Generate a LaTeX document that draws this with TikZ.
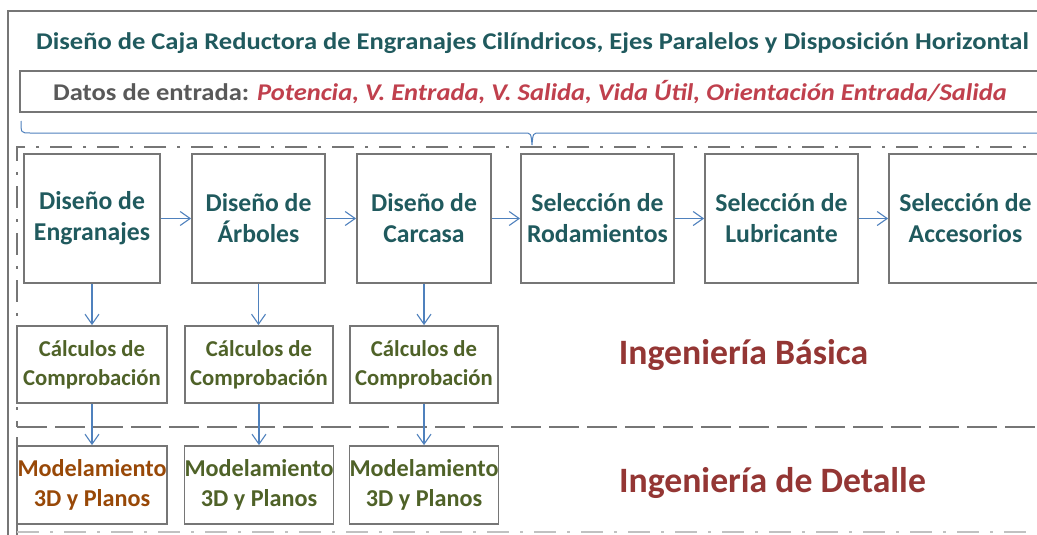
\documentclass[tikz,border=0pt]{standalone}
\usepackage{fontspec}
\setmainfont{Carlito}
\usetikzlibrary{arrows.meta}
\definecolor{cTitle}{HTML}{205A5E}
\definecolor{cGray}{HTML}{595959}
\definecolor{cRed}{HTML}{C0404D}
\definecolor{cDark}{HTML}{943634}
\definecolor{cOlive}{HTML}{4F6228}
\definecolor{cBrown}{HTML}{984807}
\definecolor{cBox}{HTML}{767676}
\definecolor{cArr}{HTML}{4F81BD}
\tikzset{
  frameline/.style={draw=cBox, line width=1.8pt},
  dashdotline/.style={draw=cBox, line width=1.8pt, dash pattern=on 22pt off 11pt on 3pt off 11pt},
  dashline/.style={draw=cBox, line width=1.8pt, dash pattern=on 30pt off 8pt},
  tbox/.style={draw=cBox, line width=1.8pt, inner sep=0pt, minimum height=129pt, align=center,
    text=cTitle, font=\bfseries\fontsize{25.7}{31}\selectfont},
  cbox/.style={draw=cBox, line width=1.8pt, inner sep=0pt, minimum height=77pt, minimum width=148pt, align=center,
    text=cOlive, font=\bfseries\fontsize{22.7}{29}\selectfont},
  mbox/.style={cbox, minimum height=78pt, font=\bfseries\fontsize{24.2}{30}\selectfont},
  arr/.style={draw=cArr, line width=1.1pt, -{Straight Barb[length=10pt,width=14pt,line width=1.1pt]}},
  englabel/.style={text=cDark, font=\bfseries\fontsize{35.7}{40}\selectfont, inner sep=0pt}
}
\begin{document}
\begin{tikzpicture}[x=1pt,y=-1pt]
\clip (0,0) rectangle (1037,535);
\fill[white] (0,0) rectangle (1037,535);
% outer frame
\draw[frameline] (8,11) rectangle (1200,700);
% title
\node[text=cTitle, font=\bfseries\fontsize{24}{28}\selectfont, inner sep=0pt] (title) at (532.5,43)
  {\scalebox{1.106}[1]{Diseño de Caja Reductora de Engranajes Cilíndricos, Ejes Paralelos y Disposición Horizontal}};
% input data box
\draw[frameline] (20,71) rectangle (1200,112);
\node[font=\bfseries\fontsize{24}{28}\selectfont, inner sep=0pt] (datos) at (530,92)
  {\scalebox{1.105}[1]{\textcolor{cGray}{Datos de entrada:} \textcolor{cRed}{\itshape Potencia, V. Entrada, V. Salida, Vida Útil, Orientación Entrada/Salida}}};
% brace
\draw[draw=cArr, line width=1pt] (21,121) .. controls (21,133) .. (30,133) -- (524,133)
  .. controls (531,133) .. (532,145) .. controls (533,133) .. (540,133) -- (1200,133);
% basic engineering frame
\draw[dashdotline] (1200,147) -- (17,147) -- (17,427);
\draw[dashline] (17,427) -- (1200,427);
% detail engineering frame
\draw[frameline] (17,437) -- (17,540);
\draw[draw=cBox!45, line width=1.8pt, dash pattern=on 22pt off 11pt on 3pt off 11pt] (17,532) -- (1200,532);
% top row
\node[tbox, minimum width=136pt] (b1) at (92,218.5) {Diseño de\\Engranajes};
\node[tbox, minimum width=133pt] (b2) at (258.5,218.5) {Diseño de\\Árboles};
\node[tbox, minimum width=134pt] (b3) at (424,218.5) {Diseño de\\Carcasa};
\node[tbox, minimum width=153pt] (b4) at (597.5,218.5) {Selección de\\Rodamientos};
\node[tbox, minimum width=153pt] (b5) at (781.5,218.5) {Selección de\\Lubricante};
\node[tbox, minimum width=153pt] (b6) at (965.5,218.5) {Selección de\\Accesorios};
\draw[arr] (b1) -- (b2);
\draw[arr] (b2) -- (b3);
\draw[arr] (b3) -- (b4);
\draw[arr] (b4) -- (b5);
\draw[arr] (b5) -- (b6);
% checks
\node[cbox, minimum width=150pt] (c1) at (92,364.5) {Cálculos de\\Comprobación};
\node[cbox] (c2) at (259,364.5) {Cálculos de\\Comprobación};
\node[cbox] (c3) at (424,364.5) {Cálculos de\\Comprobación};
% models
\node[mbox, minimum width=150pt, text=cBrown] (m1) at (92,485) {Modelamiento\\3D y Planos};
\node[mbox] (m2) at (259,485) {Modelamiento\\3D y Planos};
\node[mbox] (m3) at (424,485) {Modelamiento\\3D y Planos};
\draw[arr] (b1.south) -- (b1.south |- c1.north);
\draw[arr] (b2.south) -- (b2.south |- c2.north);
\draw[arr] (b3.south) -- (b3.south |- c3.north);
\draw[arr] (c1.south) -- (c1.south |- m1.north);
\draw[arr] (c2.south) -- (c2.south |- m2.north);
\draw[arr] (c3.south) -- (c3.south |- m3.north);
% labels
\node[englabel] (ib) at (743.5,355) {Ingeniería Básica};
\node[englabel] (id) at (772.5,483) {Ingeniería de Detalle};
\end{tikzpicture}
\end{document}
